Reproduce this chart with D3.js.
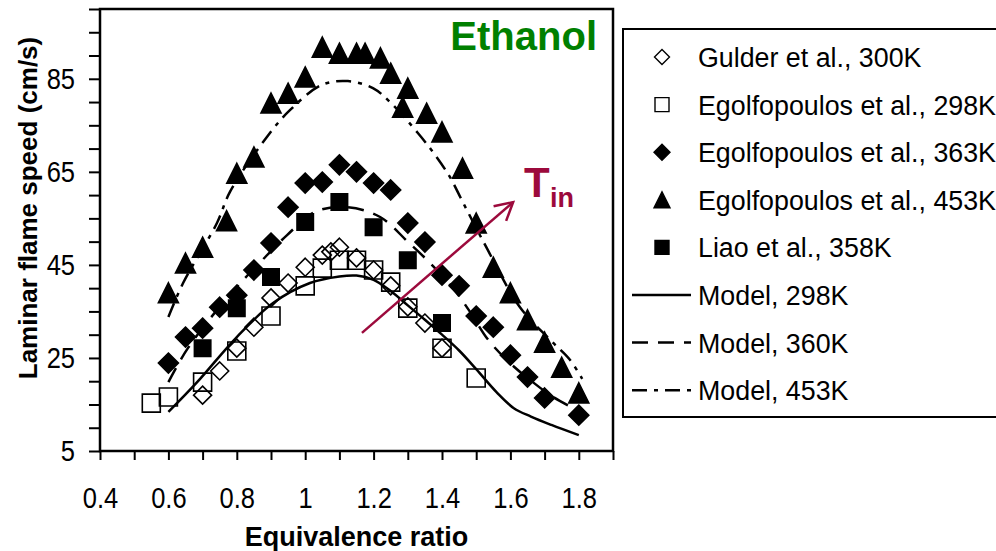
<!DOCTYPE html>
<html>
<head>
<meta charset="utf-8">
<script src="https://cdn.jsdelivr.net/npm/d3@7"></script>
<style>
  body { margin: 0; background: #fff; }
  svg { display: block; font-family: "Liberation Sans", Arial, sans-serif; }
</style>
</head>
<body>
<div id="chart"></div>
<script>
// ---- data ----
// Gulder et al., 300K (open diamonds)
const phiGulder = [0.7, 0.75, 0.8, 0.85, 0.9, 0.95, 1.0, 1.05, 1.075, 1.1, 1.15, 1.2, 1.25, 1.3, 1.35, 1.4];
const suGulder  = [17, 22.2, 27.1, 31.6, 37.9, 41.1, 44.5, 47.1, 47.8, 48.8, 46.5, 43.9, 40.5, 36, 32.5, 27.1];

// Egolfopoulos et al., 298K (open squares)
const phiEgo298 = [0.55, 0.6, 0.7, 0.8, 0.9, 1.0, 1.05, 1.1, 1.15, 1.2, 1.25, 1.3, 1.4, 1.5];
const suEgo298  = [15.3, 16.6, 19.8, 26.5, 34, 40.5, 44.3, 46, 46, 43.9, 41.3, 35.7, 27.1, 20.7];

// Egolfopoulos et al., 363K (filled diamonds)
const phiEgo363 = [0.6, 0.65, 0.7, 0.75, 0.8, 0.85, 0.9, 0.95, 1.0, 1.05, 1.1, 1.15, 1.2, 1.25,
                   1.3, 1.35, 1.4, 1.45, 1.5, 1.55, 1.6, 1.65, 1.7, 1.8];
const suEgo363  = [23.9, 29.5, 31.4, 35.9, 38.5, 43.9, 49.7, 57.4, 62.6, 62.8, 66.5, 65, 62.6, 61.1,
                   54, 49.9, 42.8, 40.5, 34, 31.6, 25.6, 20.9, 16.4, 12.7];

// Egolfopoulos et al., 453K (filled triangles)
const phiEgo453 = [0.6, 0.65, 0.7, 0.77, 0.8, 0.85, 0.9, 0.95, 1.0, 1.05, 1.1, 1.15, 1.175, 1.22, 1.25,
                   1.285, 1.3, 1.355, 1.4, 1.46, 1.5, 1.55, 1.6, 1.65, 1.7, 1.75, 1.8];
const suEgo453  = [39, 45.4, 48.8, 54.5, 64.7, 68.2, 79.8, 81.9, 85.4, 91.8, 90.5, 90.5, 90.5, 89.5, 86.2,
                   78.9, 83, 77.6, 73.6, 65.8, 54, 44.5, 39, 33.2, 28.4, 23, 17.5];

// Liao et al., 358K (filled squares)
const phiLiao = [0.7, 0.8, 0.9, 1.0, 1.1, 1.2, 1.3, 1.4];
const suLiao  = [27.1, 35.7, 42.4, 54.2, 58.5, 53.1, 46, 32.5];

// model curves
const phiModel298 = [0.6, 0.684, 0.8, 0.906, 1.014, 1.1, 1.15, 1.2, 1.25, 1.3, 1.35, 1.4, 1.45, 1.5, 1.56, 1.61, 1.66, 1.72, 1.8];
const suModel298  = [13.4, 19.8, 29.5, 36.8, 41.1, 42.5, 42.7, 41.8, 39.4, 36.3, 33.2, 30, 26.6, 22.6, 17.6, 14.2, 12.4, 10.6, 8.4];

const phiModel360 = [0.6, 0.657, 0.774, 0.874, 0.947, 1.029, 1.122, 1.219, 1.301, 1.365, 1.432, 1.482, 1.535, 1.599, 1.657, 1.725, 1.8];
const suModel360  = [19.8, 27.1, 38.1, 46, 51.4, 56.4, 57.4, 55.3, 49.9, 45.4, 40, 34.9, 28.9, 23.9, 20.3, 16.6, 13.6];

const phiModel453 = [0.6, 0.643, 0.742, 0.78, 0.888, 0.956, 1.049, 1.125, 1.198, 1.248, 1.33, 1.38, 1.423, 1.458,
                     1.491, 1.526, 1.628, 1.716, 1.774, 1.81];
const suModel453  = [33.8, 41.1, 54, 60.7, 72.5, 78.3, 83.7, 84.5, 83, 80, 73.3, 68.6, 63.9, 58.9,
                     54.2, 49.3, 35.9, 28.9, 24.6, 20.5];

// axis ticks
const xTicks = d3.range(4, 20).map(i => i / 10);
const xTickLabels = [0.4, 0.6, 0.8, 1, 1.2, 1.4, 1.6, 1.8];
const yTicks = d3.range(5, 101, 5);
const yTickLabels = [5, 25, 45, 65, 85];

// T_in arrow (data units)
const arrowFrom = [1.166, 30.4];
const arrowTo = [1.608, 58.5];

const legendLabels = ["Gulder et al., 300K", "Egolfopoulos et al., 298K", "Egolfopoulos et al., 363K",
  "Egolfopoulos et al., 453K", "Liao et al., 358K", "Model, 298K", "Model, 360K", "Model, 453K"];

// ---- layout ----
let svgWidth = 996;
let svgHeight = 551;
let plot = { left: 100, top: 9, right: 613, bottom: 451 };

let svg = d3.select("#chart").append("svg")
  .attr("width", svgWidth)
  .attr("height", svgHeight);

let x = d3.scaleLinear().domain([0.4, 1.9]).range([plot.left, plot.right]);
let y = d3.scaleLinear().domain([5, 100]).range([plot.bottom, plot.top]);

const zip = (a, b) => a.map((v, i) => [v, b[i]]);

// marker shapes
const shapes = {
  diamond: r => `M0,${-r}L${r},0L0,${r}L${-r},0Z`,
  square: r => `M${-r},${-r}H${r}V${r}H${-r}Z`,
  triangle: r => `M0,${-r}L${r},${r}L${-r},${r}Z`
};

const dashes = { solid: null, dash: "16,10", dashdot: "15,7,4,7" };

// ---- axes ----
let bottomAxis = d3.axisBottom(x)
  .tickValues(xTicks)
  .tickSize(9)
  .tickSizeOuter(0)
  .tickFormat(d => xTickLabels.some(v => Math.abs(v - d) < 1e-6) ? String(Math.round(d * 10) / 10) : "");

let leftAxis = d3.axisLeft(y)
  .tickValues(yTicks)
  .tickSize(11)
  .tickSizeOuter(0)
  .tickFormat(d => yTickLabels.includes(d) ? d : "");

let gx = svg.append("g")
  .attr("transform", `translate(0,${plot.bottom})`)
  .call(bottomAxis);
gx.select(".domain").remove();
gx.selectAll("line").attr("stroke", "#000").attr("stroke-width", 2);
gx.selectAll("text")
  .attr("font-size", 30)
  .attr("fill", "#000")
  .attr("y", 36)
  .attr("transform", "scale(0.85,1)");

let gy = svg.append("g")
  .attr("transform", `translate(${plot.left},0)`)
  .call(leftAxis);
gy.select(".domain").remove();
gy.selectAll("line").attr("stroke", "#000").attr("stroke-width", 2);
gy.selectAll("text")
  .attr("font-size", 30)
  .attr("fill", "#000")
  .attr("x", -25 / 0.85)
  .attr("transform", "scale(0.85,1)");

// plot frame
svg.append("rect")
  .attr("x", plot.left)
  .attr("y", plot.top)
  .attr("width", plot.right - plot.left)
  .attr("height", plot.bottom - plot.top)
  .attr("fill", "none")
  .attr("stroke", "#000")
  .attr("stroke-width", 2.5);

// axis titles
svg.append("text")
  .attr("x", (plot.left + plot.right) / 2)
  .attr("y", 546)
  .attr("text-anchor", "middle")
  .attr("font-size", 27)
  .attr("font-weight", "bold")
  .text("Equivalence ratio");

svg.append("text")
  .attr("transform", `translate(37,${(plot.top + plot.bottom) / 2 - 22}) rotate(-90)`)
  .attr("text-anchor", "middle")
  .attr("font-size", 26)
  .attr("font-weight", "bold")
  .text("Laminar flame speed (cm/s)");

// ---- model lines ----
let line = d3.line()
  .x(d => x(d[0]))
  .y(d => y(d[1]))
  .curve(d3.curveCatmullRom);

let models = [
  { pts: zip(phiModel298, suModel298), dash: dashes.solid },
  { pts: zip(phiModel360, suModel360), dash: dashes.dash },
  { pts: zip(phiModel453, suModel453), dash: dashes.dashdot }
];

models.forEach(m => {
  svg.append("path")
    .datum(m.pts)
    .attr("d", line)
    .attr("fill", "none")
    .attr("stroke", "#000")
    .attr("stroke-width", 2.5)
    .attr("stroke-dasharray", m.dash);
});

// ---- measured points ----
let series = [
  { pts: zip(phiGulder, suGulder), shape: "diamond", r: 9, fill: "none" },
  { pts: zip(phiEgo298, suEgo298), shape: "square", r: 9, fill: "none" },
  { pts: zip(phiEgo363, suEgo363), shape: "diamond", r: 10, fill: "#000" },
  { pts: zip(phiEgo453, suEgo453), shape: "triangle", r: 10, fill: "#000" },
  { pts: zip(phiLiao, suLiao), shape: "square", r: 8.2, fill: "#000" }
];

series.forEach(s => {
  svg.append("g")
    .selectAll("path")
    .data(s.pts)
    .enter()
    .append("path")
    .attr("transform", d => `translate(${x(d[0])},${y(d[1])})`)
    .attr("d", shapes[s.shape](s.r))
    .attr("fill", s.fill)
    .attr("stroke", "#000")
    .attr("stroke-width", 1.6);
});

// ---- annotations ----
svg.append("text")
  .attr("x", 597)
  .attr("y", 50)
  .attr("text-anchor", "end")
  .attr("font-size", 40)
  .attr("font-weight", "bold")
  .attr("fill", "#008000")
  .text("Ethanol");

const arrowColor = "#9c0a3c";
let ax0 = x(arrowFrom[0]), ay0 = y(arrowFrom[1]);
let ax1 = x(arrowTo[0]), ay1 = y(arrowTo[1]);
let ang = Math.atan2(ay1 - ay0, ax1 - ax0);
let headLen = 20, headAng = 0.5;

svg.append("line")
  .attr("x1", ax0).attr("y1", ay0)
  .attr("x2", ax1).attr("y2", ay1)
  .attr("stroke", arrowColor)
  .attr("stroke-width", 2.5);

svg.append("path")
  .attr("d", `M${ax1 - headLen * Math.cos(ang - headAng)},${ay1 - headLen * Math.sin(ang - headAng)}` +
             `L${ax1},${ay1}` +
             `L${ax1 - headLen * Math.cos(ang + headAng)},${ay1 - headLen * Math.sin(ang + headAng)}`)
  .attr("fill", "none")
  .attr("stroke", arrowColor)
  .attr("stroke-width", 2.5);

svg.append("text")
  .attr("x", 524)
  .attr("y", 197)
  .attr("font-size", 42)
  .attr("font-weight", "bold")
  .attr("fill", arrowColor)
  .text("T");

svg.append("text")
  .attr("x", 550)
  .attr("y", 207)
  .attr("font-size", 27)
  .attr("font-weight", "bold")
  .attr("fill", arrowColor)
  .text("in");

// ---- legend ----
let legend = svg.append("g");

legend.append("rect")
  .attr("x", 623)
  .attr("y", 29)
  .attr("width", 420)
  .attr("height", 388)
  .attr("fill", "#fff")
  .attr("stroke", "#000")
  .attr("stroke-width", 2);

let legendItems = [
  { shape: "diamond", r: 7.5, fill: "none" },
  { shape: "square", r: 7, fill: "none" },
  { shape: "diamond", r: 8, fill: "#000" },
  { shape: "triangle", r: 8, fill: "#000" },
  { shape: "square", r: 7, fill: "#000" },
  { dash: dashes.solid },
  { dash: dashes.dash },
  { dash: dashes.dashdot }
];

legendItems.forEach((item, i) => {
  let cy = 57 + i * 47.6;
  if (item.shape) {
    legend.append("path")
      .attr("transform", `translate(662,${cy})`)
      .attr("d", shapes[item.shape](item.r))
      .attr("fill", item.fill)
      .attr("stroke", "#000")
      .attr("stroke-width", 1.4);
  } else {
    legend.append("line")
      .attr("x1", 632).attr("x2", 691)
      .attr("y1", cy).attr("y2", cy)
      .attr("stroke", "#000")
      .attr("stroke-width", 2.5)
      .attr("stroke-dasharray", item.dash);
  }
  legend.append("text")
    .attr("x", 698)
    .attr("y", cy + 10)
    .attr("font-size", 26.8)
    .attr("fill", "#000")
    .text(legendLabels[i]);
});
</script>
</body>
</html>
